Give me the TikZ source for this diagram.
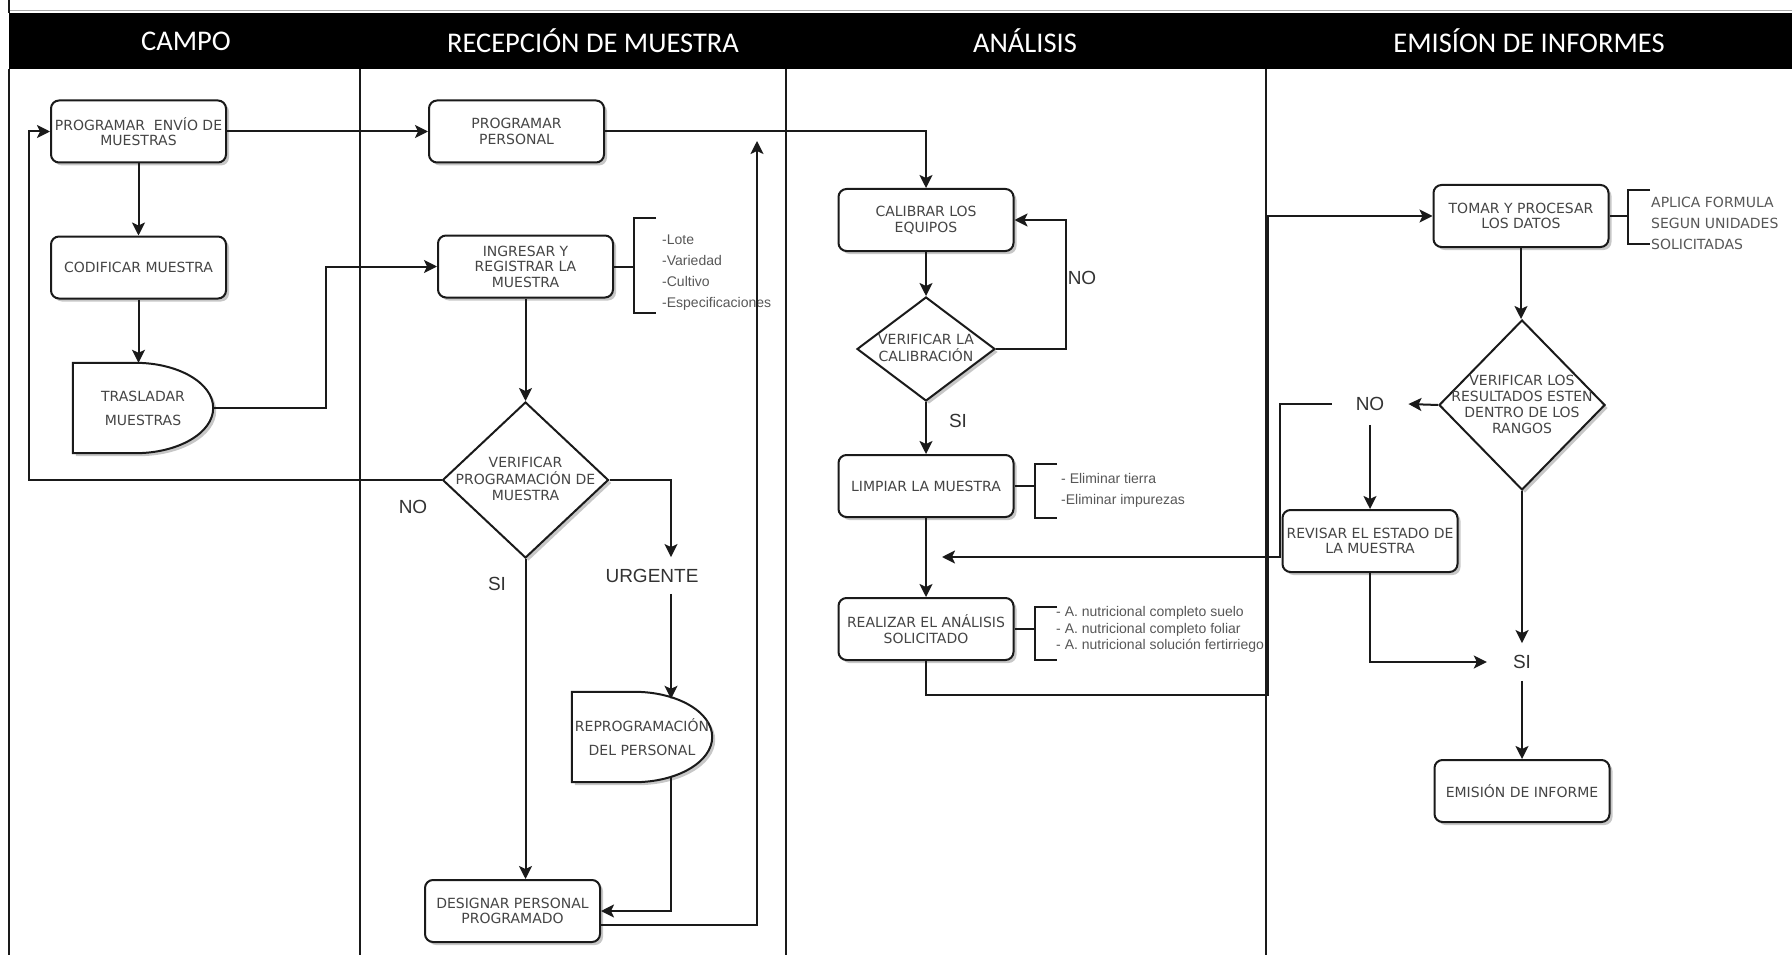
\documentclass[tikz,border=0pt]{standalone}
\usepackage{fontspec}
\setmainfont{DejaVu Sans}
\newfontfamily\headfont{Carlito}
\newfontfamily\notefont{Liberation Sans}
\usetikzlibrary{shapes.geometric, arrows.meta, shadows, backgrounds, calc, positioning}

\definecolor{inkline}{HTML}{1A1A1A}
\definecolor{boxgrey}{HTML}{454545}
\definecolor{notegrey}{HTML}{575757}

\newcommand{\dtext}[1]{%
    \makebox[0pt]{\raisebox{-4.5pt}[0pt][0pt]{%
        \begin{tabular}{@{}c@{}}#1\end{tabular}}}%
}
\newcommand{\delayoutline}[1]{%
    \draw[boxline, fill=white, boxshadow]
        (#1.north west) -- ([xshift=-78pt]#1.north east)
        .. controls ([xshift=-35pt]#1.north east) and ([yshift=25pt]#1.east) .. (#1.east)
        .. controls ([yshift=-25pt]#1.east) and ([xshift=-35pt]#1.south east) .. ([xshift=-78pt]#1.south east)
        -- (#1.south west) -- cycle;%
}
\newcommand{\notebracket}[3]{%
    \draw[boxline] (#1+22,#2) -- (#1,#2) -- (#1,#3) -- (#1+22,#3);%
}

\tikzset{
    boxline/.style={draw=inkline, line width=2pt},
    boxshadow/.style={drop shadow={shadow xshift=3pt, shadow yshift=-3pt,
        opacity=0.22, fill=black}},
    processbox/.style={boxline, boxshadow, fill=white, rounded corners=8pt,
        minimum width=175pt, minimum height=62pt, inner sep=0pt, align=center,
        text=boxgrey, font=\fontsize{14}{15.5}\selectfont},
    checkbox/.style={diamond, boxline, boxshadow, fill=white, inner sep=0pt,
        text=boxgrey, font=\fontsize{14}{16}\selectfont},
    delaybox/.style={minimum width=140pt, minimum height=90pt, inner sep=0pt,
        align=center, text=boxgrey, font=\fontsize{14}{24}\selectfont},
    answer/.style={text=black!80, font=\notefont\fontsize{19}{19}\selectfont,
        inner xsep=4pt, inner ysep=12pt},
    notes/.style={anchor=west, align=left, inner sep=0pt, text=notegrey,
        font=\notefont\fontsize{14}{21}\selectfont},
    lanehead/.style={text=white, font=\headfont\fontsize{28.5}{29}\selectfont},
    flow/.style={boxline, -{Stealth[length=13pt, width=13pt, inset=3pt]}},
}

\begin{document}
\begin{tikzpicture}[x=1pt, y=-1pt]
\begin{scope}[on background layer]
    \fill[white] (0,0) rectangle (1792,955);
\end{scope}
\useasboundingbox (0,0) rectangle (1792,955);

% lanes
\draw[gray!70, line width=1pt] (9,11) -- (1792,11);
\draw[inkline, line width=2pt] (9,0) -- (9,13);
\fill[black] (9,13) rectangle (1792,69);
\foreach \lx in {9,360,786,1266} {
    \draw[inkline, line width=2pt] (\lx,69) -- (\lx,955);
}
\node[lanehead] (hcampo) at (186,41) {CAMPO};
\node[lanehead] (hrecep) at (593,41) {RECEPCIÓN DE MUESTRA};
\node[lanehead] (hanal) at (1025,41) {ANÁLISIS};
\node[lanehead] (hemis) at (1529,41) {EMISÍON DE INFORMES};

% campo
\node[processbox] (envio) at (138.5,131.5) {PROGRAMAR\ \ ENVÍO DE\\MUESTRAS};
\node[processbox] (codif) at (138.5,267.5) {CODIFICAR MUESTRA};
\node[delaybox] (tras) at (143,408) {TRASLADAR\\MUESTRAS};

% recepcion
\node[processbox] (pers) at (516.5,131.5) {PROGRAMAR\\PERSONAL};
\node[processbox] (ingr) at (525.5,266.5) {INGRESAR Y\\REGISTRAR LA\\MUESTRA};
\node[checkbox, minimum width=166pt, minimum height=156pt] (dprog) at (525.5,480)
    {\dtext{VERIFICAR\\PROGRAMACIÓN DE\\MUESTRA}};
\node[answer] (noprog) at (413,507) {NO};
\node[answer] (siprog) at (497,584) {SI};
\node[answer, inner ysep=11.5pt] (urg) at (652,575.5) {URGENTE};
\node[delaybox] (rep) at (642,737) {REPROGRAMACIÓN\\DEL PERSONAL};
\node[processbox] (desig) at (512.5,911) {DESIGNAR PERSONAL\\PROGRAMADO};
\node[notes] (ingrnotes) at (662,273) {-Lote\\-Variedad\\-Cultivo\\-Especificaciones};

% analisis
\node[processbox] (calib) at (926,220) {CALIBRAR LOS\\EQUIPOS};
\node[checkbox, minimum width=138pt, minimum height=104pt] (dcal) at (926,349)
    {\dtext{VERIFICAR LA\\CALIBRACIÓN}};
\node[answer] (nocal) at (1082,278) {NO};
\node[answer] (sical) at (958,421) {SI};
\node[processbox] (limp) at (926,486) {LIMPIAR LA MUESTRA};
\node[processbox] (real) at (926,629) {REALIZAR EL ANÁLISIS\\SOLICITADO};
\node[notes] (limpnotes) at (1061,490) {- Eliminar tierra\\-Eliminar impurezas};
\node[notes, font=\notefont\fontsize{14}{16.5}\selectfont] (realnotes) at (1056,629.5)
    {- A. nutricional completo suelo\\- A. nutricional completo foliar\\- A. nutricional solución fertirriego};

% emision
\node[processbox] (tomar) at (1521,216) {TOMAR Y PROCESAR\\LOS DATOS};
\node[checkbox, minimum width=166pt, minimum height=170pt] (dres) at (1522,405)
    {\dtext{VERIFICAR LOS\\RESULTADOS ESTEN\\DENTRO DE LOS\\RANGOS}};
\node[answer, inner xsep=24pt, inner ysep=14pt] (nores) at (1370,404) {NO};
\node[processbox] (revis) at (1370,541) {REVISAR EL ESTADO DE\\LA MUESTRA};
\node[answer, inner xsep=26pt] (sires) at (1522,662) {SI};
\node[processbox] (emis) at (1522,791) {EMISIÓN DE INFORME};
\node[notes, font=\fontsize{14}{21}\selectfont] (tomarnotes) at (1651,223)
    {APLICA FORMULA\\SEGUN UNIDADES\\SOLICITADAS};

\begin{scope}[on background layer]
    \delayoutline{tras}
    \delayoutline{rep}
\end{scope}

% connectors
\coordinate (trasturn) at (326,408);
\coordinate (campoback) at (29,480);
\coordinate (urgcol) at (671,480);
\coordinate (persback) at (757,141);
\coordinate (calloop) at (1066,349);
\coordinate (analout) at (1268,695);
\coordinate (resback) at (1280,404);
\coordinate (resbackend) at (942,557);

\draw[flow] (envio.south) -- (codif.north);
\draw[flow] (codif.south) -- (codif.south |- tras.north);
\draw[flow] (envio.east) -- (pers.west);
\draw[flow] (tras.east) -- (trasturn) |- (ingr.west);
\draw[flow] (dprog.west) -- (campoback) |- (envio.west);

\draw[flow] (ingr.south) -- (dprog.north);
\draw[flow] (dprog.east) -- (urgcol) -- (urgcol |- urg.north);
\draw[flow] (urgcol |- urg.south) -- ($(urgcol |- rep.north)+(0,7)$);
\draw[flow] ($(urgcol |- rep.south)+(0,-6)$) |- (desig.east);
\draw[flow] (dprog.south) -- (dprog.south |- desig.north);
\draw[flow] ($(desig.east)+(0,14)$) -| (persback);
\draw[boxline] (ingr.east) -- (634,266.5);
\notebracket{634}{218}{313}

\draw[flow] (pers.east) -| (calib.north);
\draw[flow] (calib.south) -- (dcal.north);
\draw[flow] (dcal.east) -- (calloop) |- (calib.east);
\draw[flow] (dcal.south) -- (limp.north);
\draw[flow] (limp.south) -- (real.north);
\draw[boxline] (limp.east) -- (1035,486);
\notebracket{1035}{464}{518}
\draw[boxline] (real.east) -- (1035,629);
\notebracket{1035}{607}{660}
\draw[flow] (real.south) |- (analout) |- (tomar.west);

\draw[flow] (tomar.south) -- (tomar.south |- dres.north);
\draw[flow] (dres.west) -- (nores.east);
\draw[flow] (nores.south) -- (revis.north);
\draw[flow] (nores.west) -- (resback) |- (resbackend);
\draw[flow] (revis.south) |- (sires.west);
\draw[flow] (dres.south) -- (dres.south |- sires.north);
\draw[flow] (sires.south) -- (sires.south |- emis.north);
\draw[boxline] (tomar.east) -- (1628,216);
\notebracket{1628}{190}{244}
\end{tikzpicture}
\end{document}
